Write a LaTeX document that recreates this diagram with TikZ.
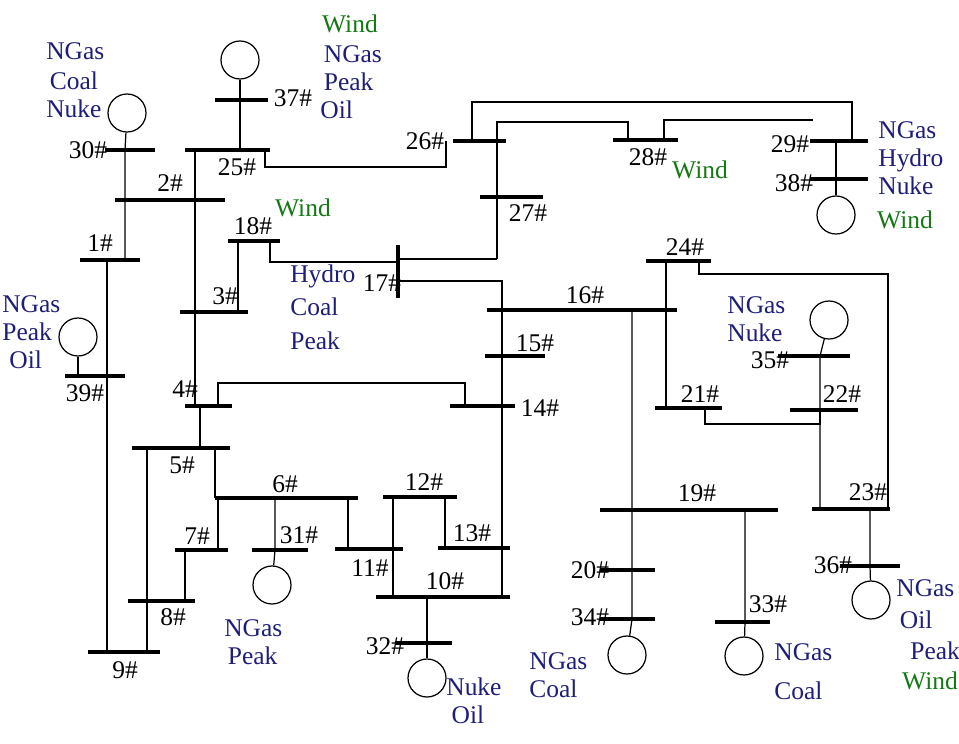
\documentclass[tikz,border=0pt]{standalone}
\usepackage{fontspec}
\setmainfont{Liberation Serif}
\usepackage{xcolor}
\definecolor{fuelblue}{RGB}{30,30,120}
\definecolor{windgreen}{RGB}{20,120,20}
\begin{document}
\begin{tikzpicture}[x=0.02cm,y=-0.02cm,
    bus/.style={line width=2.3pt},
    line/.style={line width=0.7pt},
    gen/.style={circle, draw, line width=0.7pt, minimum size=0.76cm, inner sep=0pt},
    lbl/.style={font=\fontsize{14.5}{16}\selectfont, inner sep=0pt},
    fuel/.style={font=\fontsize{14.5}{16}\selectfont, inner sep=0pt, text=fuelblue, align=left},
    wind/.style={font=\fontsize{14.5}{16}\selectfont, inner sep=0pt, text=windgreen}]
            \useasboundingbox (0,0) rectangle (959,743);
            % Buses
            \draw[bus] (215,100) -- (268,100); \node[lbl] (b37) at (293,98) {37\#};
            \draw[bus] (185,150) -- (270,150); \node[lbl] (b25) at (237,167) {25\#};
            \draw[bus] (105,150) -- (155,150); \node[lbl] (b30) at (88,150) {30\#};
            \draw[bus] (115,200) -- (225,200); \node[lbl] (b2) at (170,183) {2\#};
            \draw[bus] (80,260) -- (140,260); \node[lbl] (b1) at (100,243) {1\#};
            \draw[bus] (228,241) -- (280,241); \node[lbl] (b18) at (253,226) {18\#};
            \draw[bus] (180,312) -- (248,312); \node[lbl] (b3) at (225,296) {3\#};
            \draw[bus] (65,376) -- (125,376); \node[lbl] (b39) at (85,393) {39\#};
            \draw[bus] (185,406) -- (232,406); \node[lbl] (b4) at (185,389) {4\#};
            \draw[bus] (132,448) -- (230,448); \node[lbl] (b5) at (182,465) {5\#};
            \draw[bus] (215,498) -- (358,498); \node[lbl] (b6) at (285,484) {6\#};
            \draw[bus] (175,550) -- (228,550); \node[lbl] (b7) at (197,536) {7\#};
            \draw[bus] (252,550) -- (308,550); \node[lbl] (b31) at (299,535) {31\#};
            \draw[bus] (128,601) -- (195,601); \node[lbl] (b8) at (173,617) {8\#};
            \draw[bus] (88,652) -- (160,652); \node[lbl] (b9) at (125,670) {9\#};
            \draw[bus] (335,549) -- (403,549); \node[lbl] (b11) at (370,568) {11\#};
            \draw[bus] (383,497) -- (457,497); \node[lbl] (b12) at (424,482) {12\#};
            \draw[bus] (438,548) -- (510,548); \node[lbl] (b13) at (472,533) {13\#};
            \draw[bus] (376,597) -- (510,597); \node[lbl] (b10) at (445,581) {10\#};
            \draw[bus] (395,643) -- (452,643); \node[lbl] (b32) at (385,646) {32\#};
            \draw[bus] (450,406) -- (515,406); \node[lbl] (b14) at (540,408) {14\#};
            \draw[bus] (485,356) -- (545,356); \node[lbl] (b15) at (535,343) {15\#};
            \draw[bus] (487,310) -- (677,310); \node[lbl] (b16) at (585,295) {16\#};
            \draw[bus] (398,245) -- (398,298); \node[lbl] (b17) at (382,283) {17\#};
            \draw[bus] (453,141) -- (506,141); \node[lbl] (b26) at (425,141) {26\#};
            \draw[bus] (480,197) -- (543,197); \node[lbl] (b27) at (528,213) {27\#};
            \draw[bus] (613,140) -- (678,140); \node[lbl] (b28) at (648,157) {28\#};
            \draw[bus] (810,141) -- (868,141); \node[lbl] (b29) at (790,144) {29\#};
            \draw[bus] (810,179) -- (868,179); \node[lbl] (b38) at (794,183) {38\#};
            \draw[bus] (646,261) -- (711,261); \node[lbl] (b24) at (685,247) {24\#};
            \draw[bus] (655,408) -- (722,408); \node[lbl] (b21) at (700,394) {21\#};
            \draw[bus] (778,356) -- (850,356); \node[lbl] (b35) at (770,360) {35\#};
            \draw[bus] (790,410) -- (858,410); \node[lbl] (b22) at (842,394) {22\#};
            \draw[bus] (600,510) -- (778,510); \node[lbl] (b19) at (697,493) {19\#};
            \draw[bus] (600,570) -- (655,570); \node[lbl] (b20) at (590,570) {20\#};
            \draw[bus] (600,619) -- (655,619); \node[lbl] (b34) at (590,617) {34\#};
            \draw[bus] (715,622) -- (770,622); \node[lbl] (b33) at (768,604) {33\#};
            \draw[bus] (812,509) -- (890,509); \node[lbl] (b23) at (868,492) {23\#};
            \draw[bus] (840,566) -- (900,566); \node[lbl] (b36) at (833,565) {36\#};

            % Generators
            \node[gen] (g37) at (240,60) {};
            \node[gen] (g30) at (127,113) {};
            \node[gen] (g39) at (78,337) {};
            \node[gen] (g31) at (272,585) {};
            \node[gen] (g32) at (427,678) {};
            \node[gen] (g38) at (836,215) {};
            \node[gen] (g35) at (829,320) {};
            \node[gen] (g34) at (627,655) {};
            \node[gen] (g33) at (744,656) {};
            \node[gen] (g36) at (871,600) {};

            % Lines
            \draw[line] (g37) -- (240,100) -- (240,150);
            \draw[line] (g30) -- (125,150) -- (125,260);
            \draw[line] (g39) -- (78,376);
            \draw[line] (107,260) -- (107,652);
            \draw[line] (195,150) -- (195,406);
            \draw[line] (446,141) -- (446,167) -- (265,167) -- (265,150);
            \draw[line] (472,141) -- (472,102) -- (852,102) -- (852,141);
            \draw[line] (497,259) -- (497,122) -- (628,122) -- (628,140);
            \draw[line] (664,140) -- (664,120) -- (813,120);
            \draw[line] (836,141) -- (836,179) -- (g38);
            \draw[line] (238,241) -- (238,312);
            \draw[line] (270,241) -- (270,262) -- (398,262);
            \draw[line] (398,259) -- (497,259);
            \draw[line] (398,281) -- (502,281) -- (502,597);
            \draw[line] (465,406) -- (465,383) -- (218,383) -- (218,406);
            \draw[line] (632,310) -- (632,619) -- (g34);
            \draw[line] (666,261) -- (666,408);
            \draw[line] (699,261) -- (699,274) -- (888,274) -- (888,509);
            \draw[line] (705,408) -- (705,424) -- (820,424) -- (820,410);
            \draw[line] (g35) -- (820,356) -- (820,509);
            \draw[line] (745,510) -- (745,622) -- (g33);
            \draw[line] (870,509) -- (870,566) -- (g36);
            \draw[line] (200,406) -- (200,448);
            \draw[line] (215,448) -- (215,498);
            \draw[line] (147,448) -- (147,652);
            \draw[line] (218,498) -- (218,550);
            \draw[line] (275,498) -- (275,550) -- (g31);
            \draw[line] (348,498) -- (348,549);
            \draw[line] (185,550) -- (185,601);
            \draw[line] (393,497) -- (393,597);
            \draw[line] (445,497) -- (445,548);
            \draw[line] (427,597) -- (427,643) -- (g32);

            % Fuel labels
            \node[wind] (t37w) at (350,24) {Wind};
            \node[fuel, anchor=west] (t37) at (320,82) {\hspace*{2pt}NGas\\\hspace*{2pt}Peak\\Oil};
            \node[fuel, anchor=west] (t30) at (46,80) {NGas\\[1pt]\hspace*{2pt}Coal\\Nuke};
            \node[wind] (t18w) at (303,208) {Wind};
            \node[fuel, anchor=west] (t17) at (290,307) {Hydro\\[3pt]Coal\\[3pt]Peak};
            \node[wind] (t28w) at (700,170) {Wind};
            \node[fuel, anchor=west] (t29) at (878,158) {NGas\\Hydro\\Nuke};
            \node[wind] (t38w) at (905,220) {Wind};
            \node[fuel, anchor=west] (t39) at (2,332) {NGas\\Peak\\\hspace*{4pt}Oil};
            \node[fuel, anchor=west] (t35) at (727,319) {NGas\\Nuke};
            \node[fuel, anchor=west] (t31) at (224,642) {NGas\\\hspace*{2pt}Peak};
            \node[fuel, anchor=west] (t32) at (446,701) {Nuke\\\hspace*{3pt}Oil};
            \node[fuel, anchor=west] (t34) at (529,675) {NGas\\Coal};
            \node[fuel, anchor=west] (t33) at (774,672) {NGas\\[6pt]Coal};
            \node[fuel, anchor=west] (t36) at (896,620) {NGas\\[2pt]\hspace*{2pt}Oil\\[2pt]\hspace*{8pt}Peak};
            \node[wind] (t36w) at (930,681) {Wind};
        \end{tikzpicture}
\end{document}
